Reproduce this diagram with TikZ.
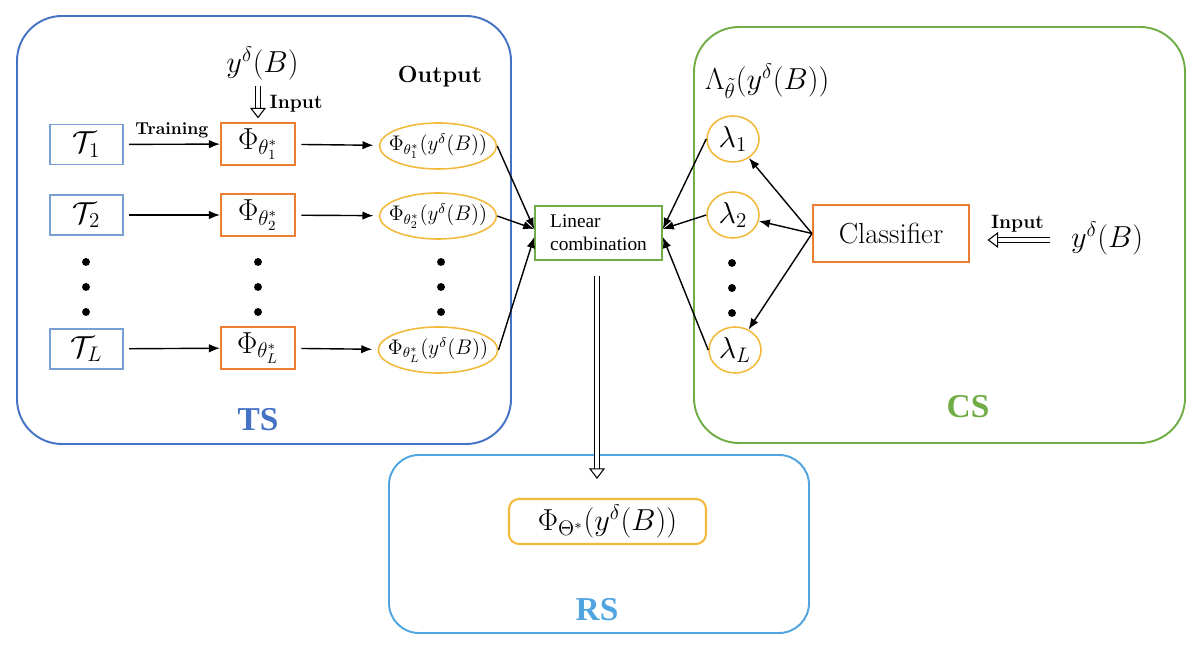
\documentclass[tikz,border=0pt]{standalone}
\usepackage{amsmath,amssymb}
\usepackage{fontspec}
\newfontfamily\timesfont{Liberation Serif}
\usepackage{tikz}
\usetikzlibrary{arrows.meta,shapes.geometric}

\definecolor{tsblue}{RGB}{68,114,196}
\definecolor{csgreen}{RGB}{112,173,71}
\definecolor{rsblue}{RGB}{80,165,225}
\definecolor{tblue}{RGB}{120,160,212}
\definecolor{phiorange}{RGB}{237,125,49}
\definecolor{gold}{RGB}{242,186,60}

\newcommand{\yB}{y^{\delta}(B)}

\begin{document}
\begin{tikzpicture}[x=1cm,y=1cm,>={Latex[length=2.2mm,width=1.7mm]}]
\tikzstyle{tbox}=[draw=tblue,line width=0.9pt,minimum width=1.46cm,minimum height=0.8cm,font=\fontsize{16.5}{20}\selectfont]
\tikzstyle{phibox}=[draw=phiorange,line width=1.2pt,minimum width=1.48cm,minimum height=0.8cm,font=\fontsize{16.5}{20}\selectfont]
\tikzstyle{outell}=[draw=gold,ellipse,line width=0.9pt,inner xsep=-4.5pt,inner ysep=0pt,minimum width=2.08cm,minimum height=0.92cm,font=\fontsize{11.5}{14}\selectfont]
\tikzstyle{lamell}=[draw=gold,ellipse,line width=0.9pt,inner sep=0pt,minimum width=1.04cm,minimum height=0.92cm,font=\fontsize{16.5}{20}\selectfont]
\tikzstyle{bold}=[font=\fontsize{11}{13}\selectfont\bfseries]
\tikzstyle{big}=[font=\fontsize{16.5}{20}\selectfont]
\tikzstyle{region}=[line width=1.1pt,rounded corners=0.9cm]
\tikzstyle{regionlabel}=[font=\fontsize{19}{22}\selectfont\timesfont\bfseries]
\tikzstyle{dbl}=[double,double distance=2.6pt,line width=0.6pt,-{Triangle[fill=white,length=6pt,width=9pt,line width=0.6pt]}]
\tikzstyle{dot}=[circle,fill,inner sep=0pt,minimum size=4.5pt]

\useasboundingbox (0,0) rectangle (24,13.08);

% regions
\draw[region,tsblue] (0.34,4.20) rectangle (10.22,12.76);
\draw[region,csgreen] (13.88,4.22) rectangle (23.70,12.54);
\draw[region,rsblue,rounded corners=0.6cm] (7.78,0.42) rectangle (16.18,3.98);
\node[regionlabel,text=tsblue] (tslab) at (5.16,4.68) {TS};
\node[regionlabel,text=csgreen] (cslab) at (19.36,4.94) {CS};
\node[regionlabel,text=rsblue] (rslab) at (11.94,0.88) {RS};

% training stage
\node[tbox] (t1) at (1.73,10.19) {$\mathcal{T}_1$};
\node[tbox] (t2) at (1.73,8.78) {$\mathcal{T}_2$};
\node[tbox] (tl) at (1.73,6.10) {$\mathcal{T}_L$};
\node[phibox] (phi1) at (5.16,10.20) {$\Phi_{\theta_1^*}$};
\node[phibox] (phi2) at (5.16,8.78) {$\Phi_{\theta_2^*}$};
\node[phibox] (phil) at (5.16,6.12) {$\Phi_{\theta_L^*}$};
\node[outell] (out1) at (8.76,10.16) {$\Phi_{\theta_1^*}(\yB)$};
\node[outell] (out2) at (8.76,8.76) {$\Phi_{\theta_2^*}(\yB)$};
\node[outell] (outl) at (8.76,6.08) {$\Phi_{\theta_L^*}(\yB)$};
\node[big] (yin) at (5.25,11.82) {$\yB$};
\node[font=\fontsize{13.3}{16}\selectfont\bfseries] (outlab) at (8.80,11.54) {Output};

\foreach \x/\n in {1.72/a,5.16/b,8.82/c}{
  \node[dot] (d\n1) at (\x,7.84) {};
  \node[dot] (d\n2) at (\x,7.34) {};
  \node[dot] (d\n3) at (\x,6.84) {};
}

\draw[->,line width=0.8pt,shorten <=3pt] (t1) -- node[above,font=\fontsize{9.8}{12}\selectfont\bfseries] {Training} (phi1);
\draw[->,line width=0.8pt,shorten <=3pt] (t2) -- (phi2);
\draw[->,line width=0.8pt,shorten <=3pt] (tl) -- (phil);
\draw[->,line width=0.8pt,shorten <=3pt,shorten >=3pt] (phi1) -- (out1);
\draw[->,line width=0.8pt,shorten <=3pt,shorten >=3pt] (phi2) -- (out2);
\draw[->,line width=0.8pt,shorten <=3pt,shorten >=3pt] (phil) -- (outl);
\draw[dbl,shorten >=2pt] (yin.south -| phi1.north) -- node[right,bold,xshift=3pt] {Input} (phi1.north);

% combination
\node[draw=csgreen,line width=0.9pt,minimum width=2.54cm,minimum height=1.08cm,align=left,font=\fontsize{11}{13}\selectfont\timesfont] (lc) at (11.97,8.42) {Linear\\combination};
\draw[->,line width=0.8pt] (out1.east) -- ([yshift=0.08cm]lc.west);
\draw[->,line width=0.8pt] (out2.east) -- ([yshift=0.08cm]lc.west);
\draw[->,line width=0.8pt] (outl.east) -- ([yshift=-0.08cm]lc.west);

% classifier stage
\node[big,anchor=west] (lamlab) at (13.98,11.46) {$\Lambda_{\tilde{\theta}}(\yB)$};
\node[lamell] (l1) at (14.66,10.30) {$\lambda_1$};
\node[lamell] (l2) at (14.66,8.78) {$\lambda_2$};
\node[lamell] (ll) at (14.70,6.08) {$\lambda_L$};
\foreach \y/\n in {7.82/1,7.32/2,6.82/3}
  \node[dot] (dd\n) at (14.64,\y) {};
\node[draw=phiorange,line width=1.2pt,minimum width=3.12cm,minimum height=1.14cm,big] (cls) at (17.82,8.41) {Classifier};
\node[big] (ycs) at (22.14,8.32) {$\yB$};
\draw[dbl,shorten <=0.3cm,shorten >=0.35cm] (ycs.west |- 0,8.28) -- node[above,bold,yshift=1pt] {Input} (cls.east |- 0,8.28);

\draw[->,line width=0.8pt] (cls.west) -- (l1);
\draw[->,line width=0.8pt] (cls.west) -- (l2);
\draw[->,line width=0.8pt] (cls.west) -- (ll);
\draw[->,line width=0.8pt] (l1.west) -- ([yshift=0.08cm]lc.east);
\draw[->,line width=0.8pt] (l2.west) -- ([yshift=0.08cm]lc.east);
\draw[->,line width=0.8pt] (ll.west) -- ([yshift=-0.08cm]lc.east);

% result stage
\node[draw=gold,line width=1.2pt,rounded corners=0.2cm,minimum width=3.94cm,minimum height=0.9cm,big] (res) at (12.15,2.65) {$\Phi_{\Theta^*}(\yB)$};
\draw[dbl,shorten <=0.3cm,shorten >=0.38cm] (lc.south -| 11.94,0) -- (res.north -| 11.94,0);
\end{tikzpicture}
\end{document}
